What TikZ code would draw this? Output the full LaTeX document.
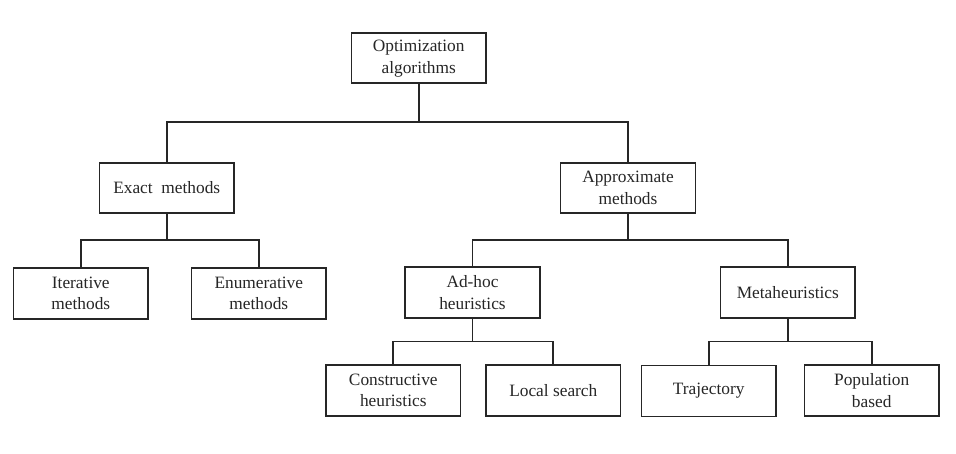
\documentclass[tikz,border=0pt]{standalone}
\usepackage{fontspec}
\setmainfont{Liberation Serif}
\begin{document}
\begin{tikzpicture}[x=0.03cm,y=-0.03cm,
  box/.style={draw=black!85, line width=1.4pt, fill=white, minimum width=4.04cm, minimum height=1.53cm,
    align=center, inner sep=0pt, font=\fontsize{14.8}{18.5}\selectfont, text=black!85},
  conn/.style={draw=black!85, line width=1.4pt}]
\useasboundingbox[fill=white] (0,0) rectangle (956,454);
\node[box, minimum height=1.5cm] (opt) at (418.7,58.3) {Optimization\\algorithms};
\node[box, minimum height=1.5cm] (exact) at (166.7,187.7) {Exact\ \ methods};
\node[box, minimum height=1.5cm] (approx) at (628,187.7) {Approximate\\methods};
\node[box] (iter) at (80.8,293.3) {Iterative\\methods};
\node[box] (enum) at (258.8,293.3) {Enumerative\\methods};
\node[box] (adhoc) at (472.5,292.5) {Ad-hoc\\heuristics};
\node[box] (meta) at (787.8,292.5) {Metaheuristics};
\node[box] (constr) at (393.3,390.5) {Constructive\\heuristics};
\node[box] (local) at (553.3,390.5) {Local search};
\node[box] (traj) at (708.7,391) {Trajectory};
\node[box] (pop) at (871.7,390.5) {Population\\based};
\coordinate (b1) at (0,122);
\coordinate (b2) at (0,240);
\coordinate (b3) at (0,341.5);
\draw[conn] (opt.south) -- (opt.south |- b1);
\draw[conn] (exact.north) -- (exact.north |- b1) -- (approx.north |- b1) -- (approx.north);
\draw[conn] (exact.south) -- (exact.south |- b2);
\draw[conn] (iter.north) -- (iter.north |- b2) -- (enum.north |- b2) -- (enum.north);
\draw[conn] (approx.south) -- (approx.south |- b2);
\draw[conn] (adhoc.north) -- (adhoc.north |- b2) -- (meta.north |- b2) -- (meta.north);
\draw[conn] (adhoc.south) -- (adhoc.south |- b3);
\draw[conn] (constr.north) -- (constr.north |- b3) -- (local.north |- b3) -- (local.north);
\draw[conn] (meta.south) -- (meta.south |- b3);
\draw[conn] (traj.north) -- (traj.north |- b3) -- (pop.north |- b3) -- (pop.north);
\end{tikzpicture}
\end{document}
